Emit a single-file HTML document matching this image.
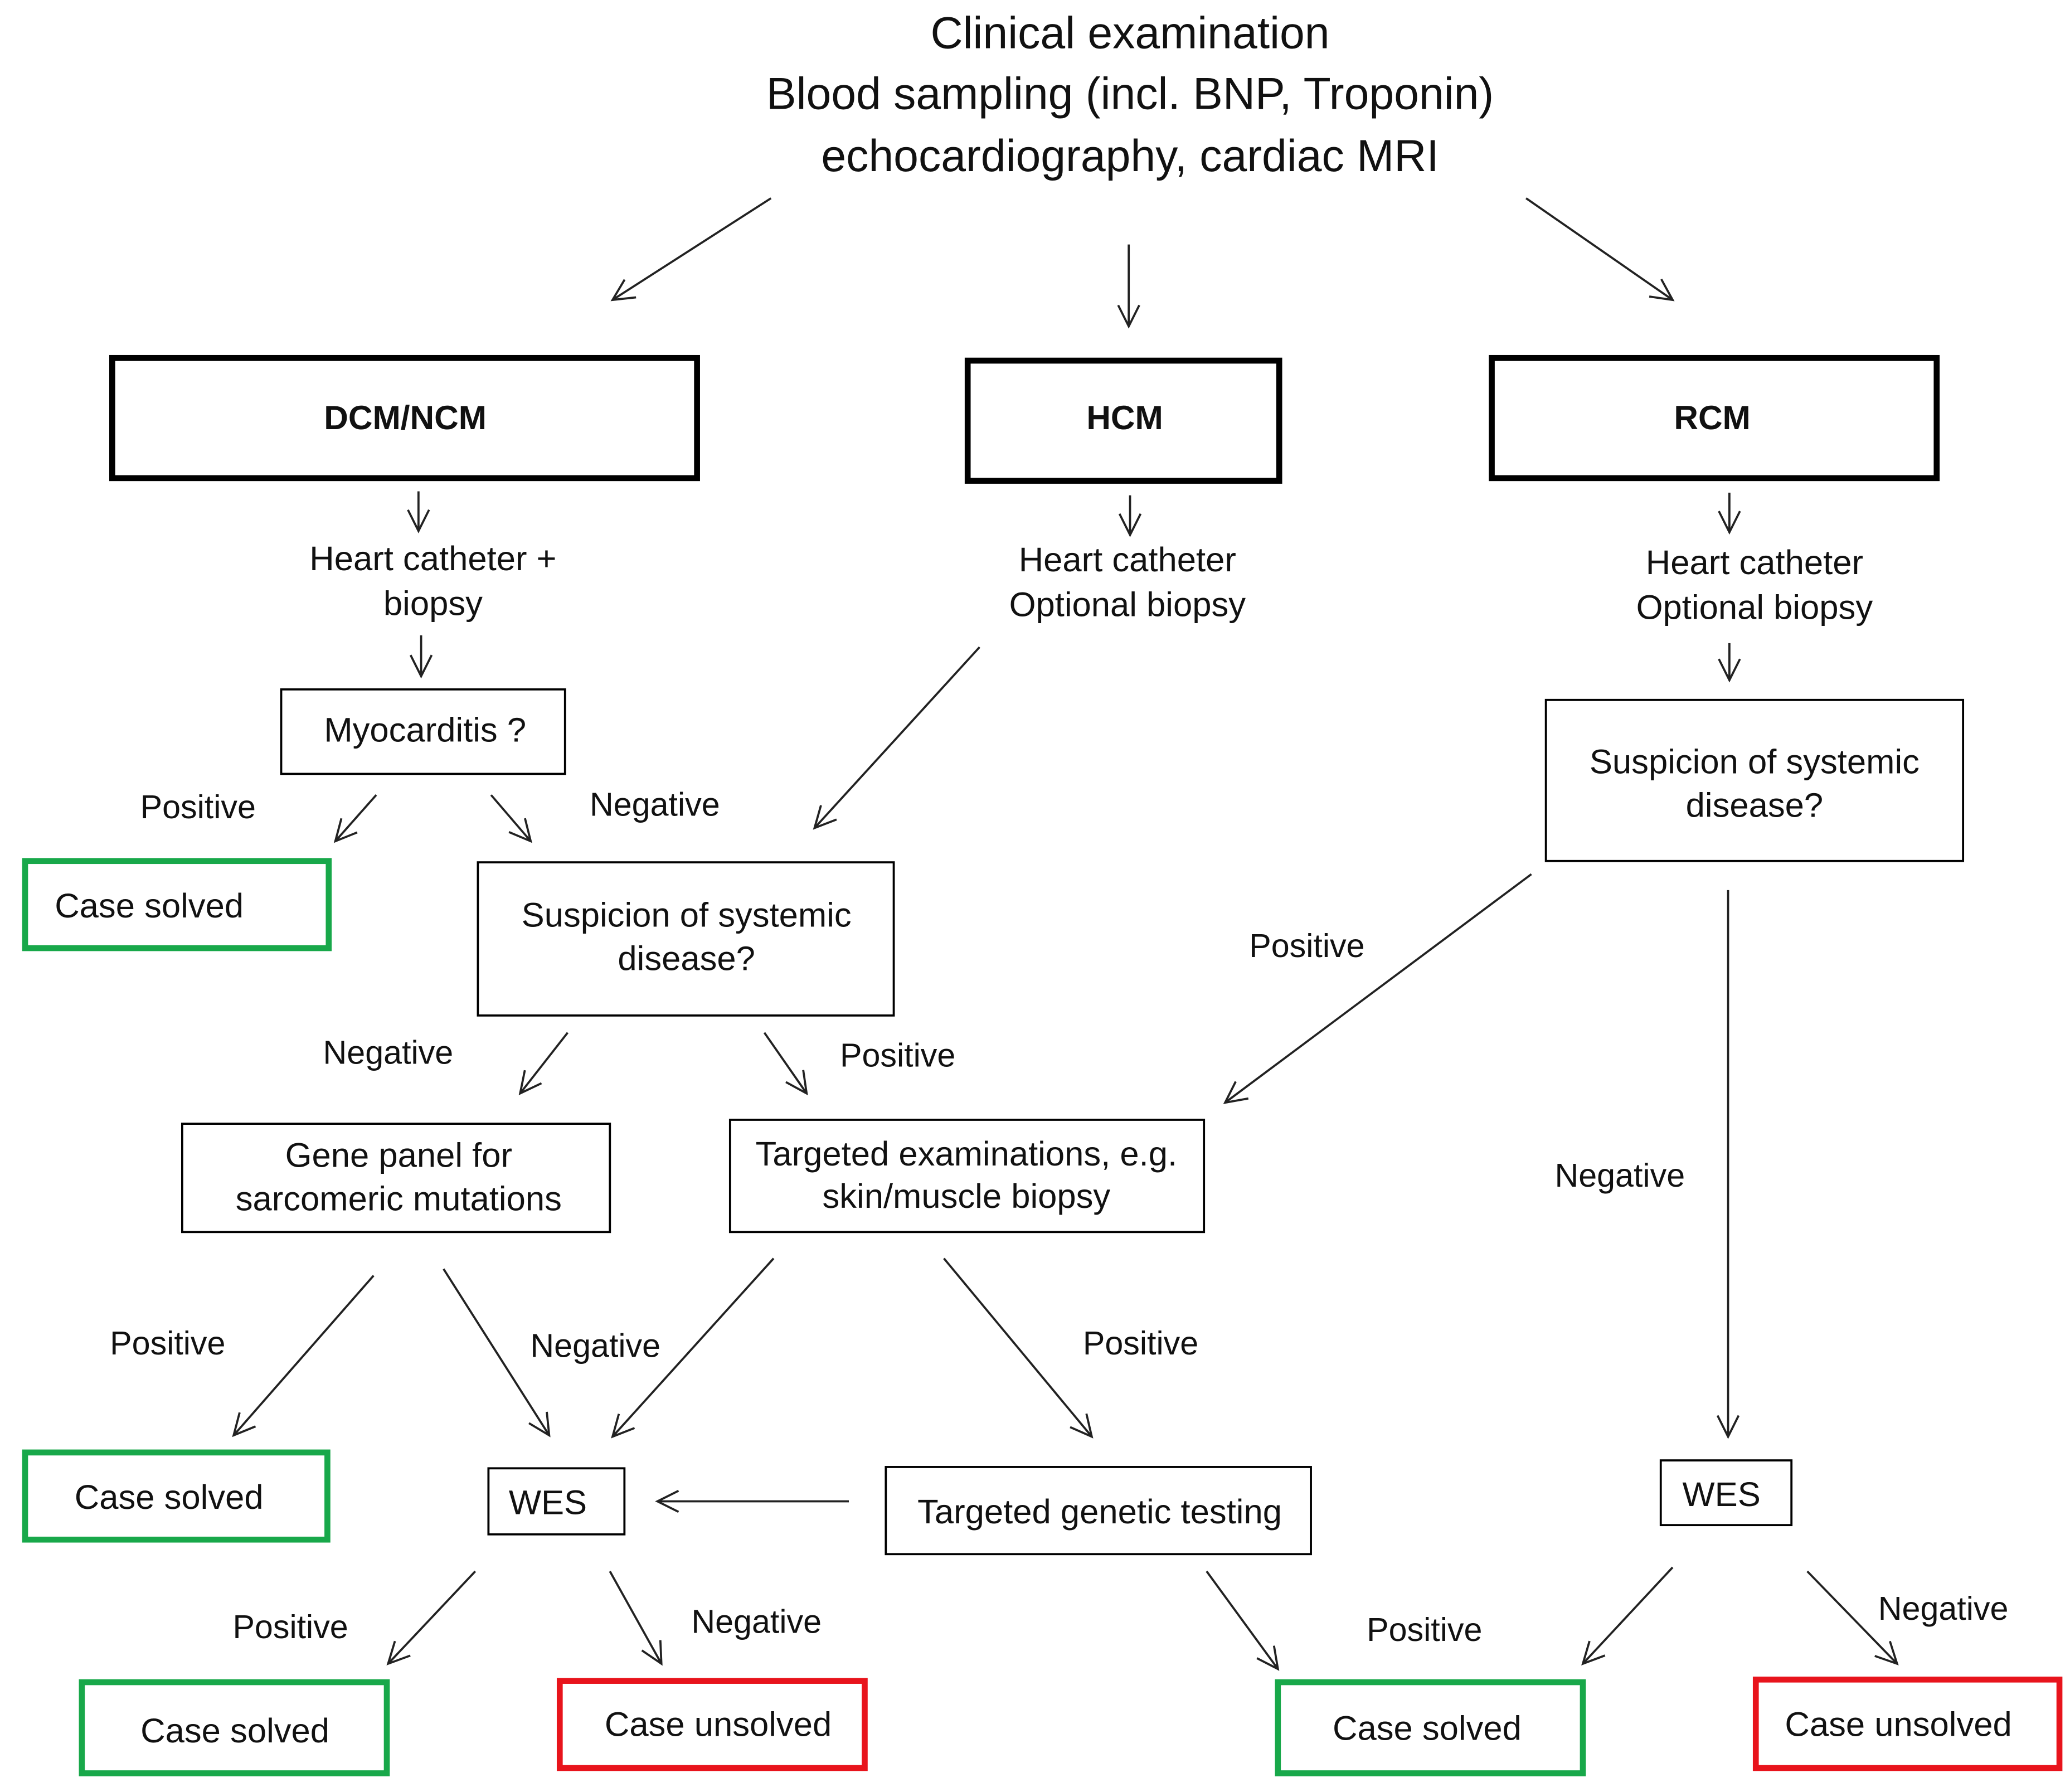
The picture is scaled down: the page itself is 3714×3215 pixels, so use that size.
<!DOCTYPE html>
<html><head><meta charset="utf-8"><style>
html,body{margin:0;padding:0;background:#fff}
svg{display:block}
text{font-family:"Liberation Sans",sans-serif;fill:#111;text-anchor:middle;dominant-baseline:central}
.t{font-size:34px}
.b{font-size:25.5px;font-weight:bold}
.n{font-size:26px}
.l{font-size:25px}
.a{stroke:#222;stroke-width:1.6;fill:none;marker-end:url(#ah)}
.tb{fill:none;stroke:#000;stroke-width:1.6}
.k{fill:none;stroke:#000;stroke-width:4.5}
.g{fill:none;stroke:#18a84a;stroke-width:4.5}
.r{fill:none;stroke:#e8141c;stroke-width:4.5}
</style></head><body>
<svg width="3714" height="3215" viewBox="0 0 1568 1357" xmlns="http://www.w3.org/2000/svg">
<defs><marker id="ah" viewBox="0 0 20 20" refX="18" refY="10" markerWidth="20" markerHeight="20" markerUnits="userSpaceOnUse" orient="auto"><polyline points="2,2 18,10 2,18" fill="none" stroke="#222" stroke-width="1.6"/></marker></defs>
<text class="t" x="856" y="25">Clinical examination</text>
<text class="t" x="856" y="71">Blood sampling (incl. BNP, Troponin)</text>
<text class="t" x="856" y="118">echocardiography, cardiac MRI</text>
<line class="a" x1="584" y1="150" x2="464" y2="227"/>
<line class="a" x1="855" y1="185" x2="855" y2="247"/>
<line class="a" x1="1156" y1="150" x2="1267" y2="227"/>
<rect class="k" x="85" y="271" width="443" height="91"/><text class="b" x="307" y="316">DCM/NCM</text>
<rect class="k" x="733" y="273" width="236" height="91"/><text class="b" x="852" y="316">HCM</text>
<rect class="k" x="1130" y="271" width="337" height="91"/><text class="b" x="1297" y="316">RCM</text>
<line class="a" x1="317" y1="372" x2="317" y2="402"/>
<text class="n" x="328" y="423">Heart catheter +</text><text class="n" x="328" y="457">biopsy</text>
<line class="a" x1="319" y1="481" x2="319" y2="512"/>
<rect class="tb" x="213" y="522" width="215" height="64"/><text class="n" x="322" y="553">Myocarditis ?</text>
<line class="a" x1="856" y1="375" x2="856" y2="405"/>
<text class="n" x="854" y="424">Heart catheter</text><text class="n" x="854" y="458">Optional biopsy</text>
<line class="a" x1="1310" y1="373" x2="1310" y2="403"/>
<text class="n" x="1329" y="426">Heart catheter</text><text class="n" x="1329" y="460">Optional biopsy</text>
<line class="a" x1="1310" y1="487" x2="1310" y2="515"/>
<rect class="tb" x="1171" y="530" width="316" height="122"/>
<text class="n" x="1329" y="577">Suspicion of systemic</text><text class="n" x="1329" y="610">disease?</text>
<text class="l" x="150" y="611">Positive</text>
<line class="a" x1="285" y1="602" x2="254" y2="637"/>
<text class="l" x="496" y="609">Negative</text>
<line class="a" x1="372" y1="602" x2="402" y2="637"/>
<rect class="g" x="19" y="652" width="230" height="66"/><text class="n" x="113" y="686">Case solved</text>
<line class="a" x1="742" y1="490" x2="617" y2="627"/>
<rect class="tb" x="362" y="653" width="315" height="116"/>
<text class="n" x="520" y="693">Suspicion of systemic</text><text class="n" x="520" y="726">disease?</text>
<text class="l" x="990" y="716">Positive</text>
<line class="a" x1="1160" y1="662" x2="928" y2="835"/>
<text class="l" x="294" y="797">Negative</text>
<line class="a" x1="430" y1="782" x2="394" y2="828"/>
<text class="l" x="680" y="799">Positive</text>
<line class="a" x1="579" y1="782" x2="611" y2="828"/>
<rect class="tb" x="138" y="851" width="324" height="82"/>
<text class="n" x="302" y="875">Gene panel for</text><text class="n" x="302" y="908">sarcomeric mutations</text>
<rect class="tb" x="553" y="848" width="359" height="85"/>
<text class="n" x="732" y="874">Targeted examinations, e.g.</text><text class="n" x="732" y="906">skin/muscle biopsy</text>
<text class="l" x="1227" y="890">Negative</text>
<line class="a" x1="1309" y1="674" x2="1309" y2="1088"/>
<text class="l" x="127" y="1017">Positive</text>
<line class="a" x1="283" y1="966" x2="177" y2="1087"/>
<text class="l" x="451" y="1019">Negative</text>
<line class="a" x1="336" y1="961" x2="416" y2="1087"/>
<line class="a" x1="586" y1="953" x2="464" y2="1088"/>
<text class="l" x="864" y="1017">Positive</text>
<line class="a" x1="715" y1="953" x2="827" y2="1088"/>
<rect class="g" x="19" y="1100" width="229" height="66"/><text class="n" x="128" y="1134">Case solved</text>
<rect class="tb" x="370" y="1112" width="103" height="50"/><text class="n" x="415" y="1138">WES</text>
<line class="a" x1="643" y1="1137" x2="498" y2="1137"/>
<rect class="tb" x="671" y="1111" width="322" height="66"/><text class="n" x="833" y="1145">Targeted genetic testing</text>
<rect class="tb" x="1258" y="1106" width="99" height="49"/><text class="n" x="1304" y="1132">WES</text>
<text class="l" x="220" y="1232">Positive</text>
<line class="a" x1="360" y1="1190" x2="294" y2="1260"/>
<text class="l" x="573" y="1228">Negative</text>
<line class="a" x1="462" y1="1190" x2="501" y2="1260"/>
<line class="a" x1="914" y1="1190" x2="968" y2="1264"/>
<text class="l" x="1079" y="1234">Positive</text>
<line class="a" x1="1267" y1="1187" x2="1199" y2="1260"/>
<text class="l" x="1472" y="1218">Negative</text>
<line class="a" x1="1369" y1="1190" x2="1437" y2="1260"/>
<rect class="g" x="62" y="1274" width="231" height="69"/><text class="n" x="178" y="1311">Case solved</text>
<rect class="r" x="424" y="1273" width="231" height="66"/><text class="n" x="544" y="1306">Case unsolved</text>
<rect class="g" x="968" y="1274" width="231" height="69"/><text class="n" x="1081" y="1309">Case solved</text>
<rect class="r" x="1330" y="1272" width="230" height="67"/><text class="n" x="1438" y="1306">Case unsolved</text>
</svg>
</body></html>
